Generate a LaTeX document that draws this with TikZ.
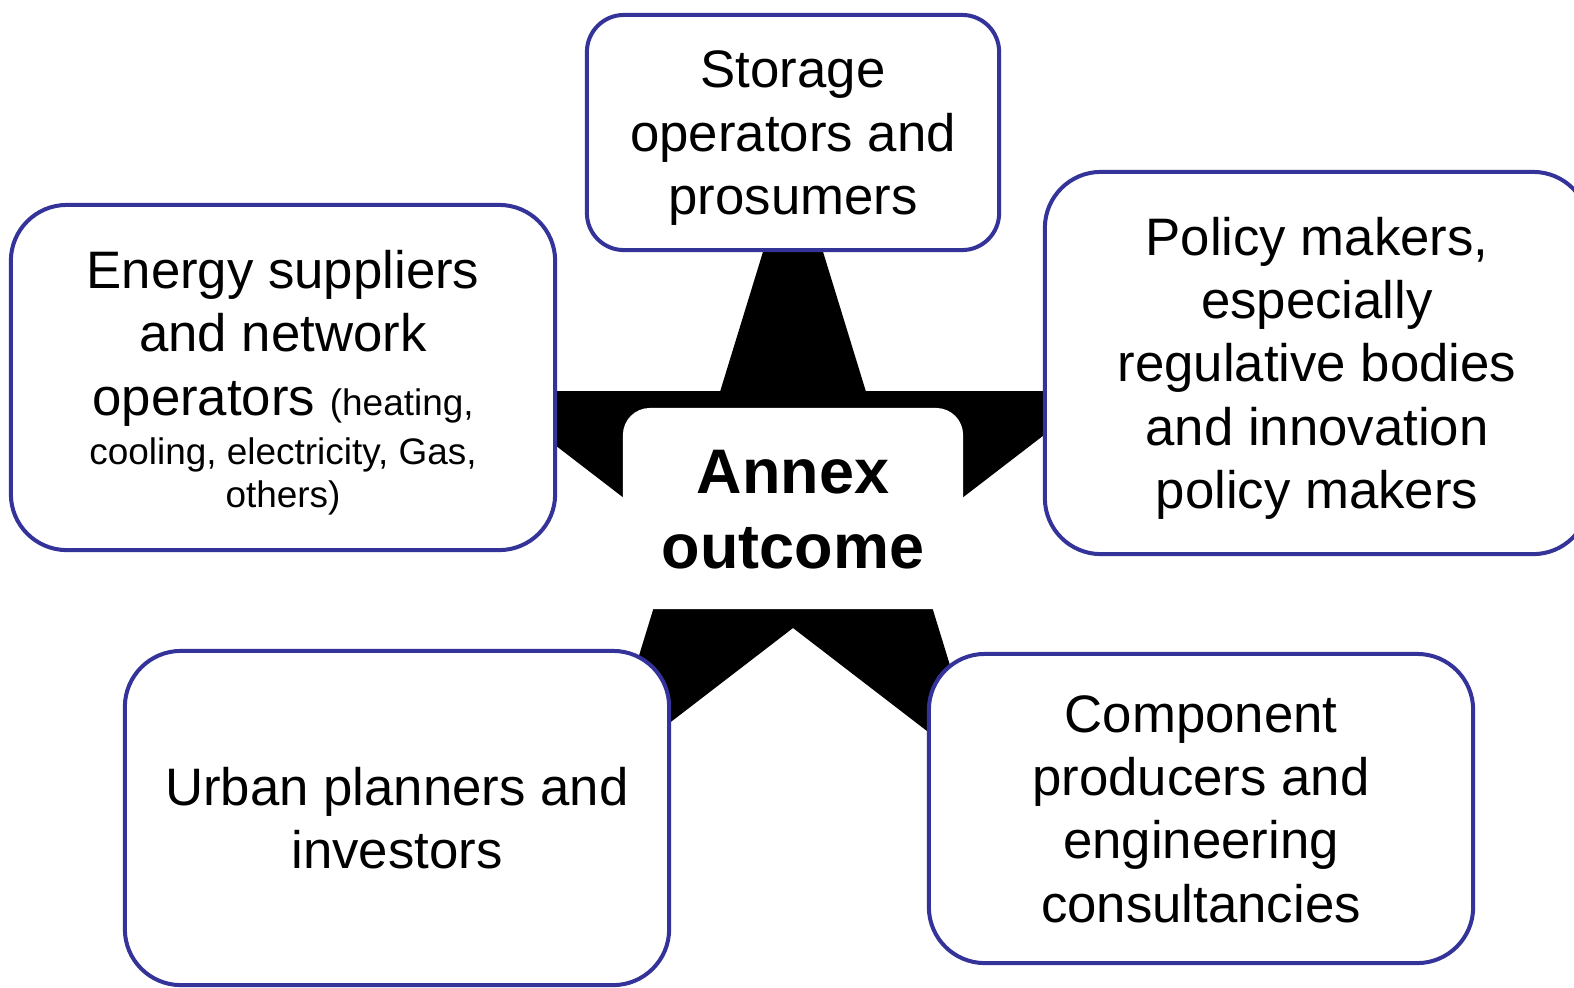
\documentclass[tikz,border=0pt]{standalone}
\usepackage{fontspec}
\setmainfont{Liberation Sans}
\definecolor{rim}{RGB}{51,51,153}
% keeps first and last lines at full line height
\newcommand\lstrut{\rule[-0.24em]{0pt}{1.19em}}
\newcommand\smalltxt{\fontsize{10.5}{12.6}\selectfont}

\begin{document}
\begin{tikzpicture}[x=0.01cm, y=-0.01cm,
		actor/.style={draw=rim, line width=0.04cm, fill=white, rounded corners=0.56cm,
			minimum width=5.44cm, inner sep=0pt, align=center,
			font=\fontsize{15}{18}\selectfont}]
		\useasboundingbox (0,0) rectangle (1574,987);

		% star behind the plate
		\fill[shift={(793,497)}, xscale=0.945] (-90:343)
			\foreach \k in {1,...,9} {-- ({36*\k-90}:{ifthenelse(isodd(\k),131,343)})} -- cycle;
		\node[fill=white, rounded corners=0.27cm, minimum width=3.4cm, minimum height=2.01cm,
			inner sep=0pt, align=center, font=\fontsize{17.9}{21.5}\selectfont\bfseries]
			(outcome) at (793,508.5) {\lstrut Annex\\outcome\lstrut};

		% stakeholder groups
		\node[actor, minimum width=4.12cm, minimum height=2.35cm, rounded corners=0.37cm]
			(storage) at (793,132.5) {\lstrut Storage\\operators and\\prosumers\lstrut};
		\node[actor, minimum height=3.45cm] (supply) at (283,377.5)
			{\lstrut Energy suppliers\\and network\\operators {\smalltxt(heating,}\\[-3.8pt]
			{\smalltxt cooling, electricity, Gas,}\\[-5.8pt]{\smalltxt others)\lstrut}};
		\node[actor, minimum height=3.82cm] (policy) at (1317,363)
			{\lstrut Policy makers,\\especially\\regulative bodies\\and innovation\\policy makers\lstrut};
		\node[actor, minimum height=3.34cm] (urban) at (397,818)
			{\lstrut Urban planners and\\investors\lstrut};
		\node[actor, minimum height=3.09cm] (component) at (1201,808.5)
			{\lstrut Component\\producers and\\engineering\\consultancies\lstrut};
	\end{tikzpicture}
\end{document}
